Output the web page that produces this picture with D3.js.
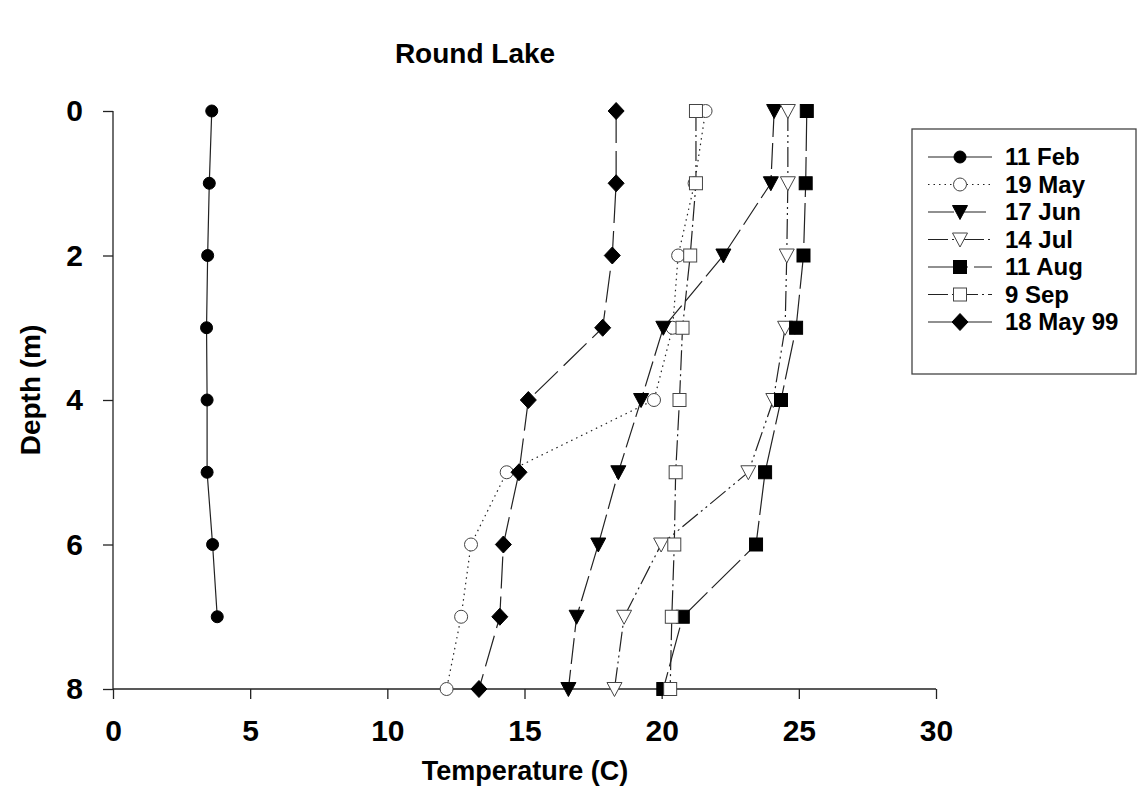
<!DOCTYPE html>
<html>
<head>
<meta charset="utf-8">
<script src="https://cdn.jsdelivr.net/npm/d3@7/dist/d3.min.js"></script>
<style>
  html, body { margin: 0; padding: 0; background: #fff; }
  svg { display: block; font-family: Arial, "Liberation Sans", sans-serif; }
</style>
</head>
<body>
<svg id="chart" width="1142" height="811"></svg>
<script>
// Depth profiles of water temperature, Round Lake
const depths = [0, 1, 2, 3, 4, 5, 6, 7, 8];
const seriesNames = ["11 Feb", "19 May", "17 Jun", "14 Jul", "11 Aug", "9 Sep", "18 May 99"];
const feb11 = [3.60, 3.51, 3.45, 3.41, 3.43, 3.43, 3.63, 3.80];
const may19 = [21.6, 21.2, 20.6, 20.4, 19.72, 14.35, 13.05, 12.69, 12.16];
const jun17 = [24.1, 23.98, 22.25, 20.06, 19.25, 18.42, 17.69, 16.9, 16.6];
const jul14 = [24.6, 24.6, 24.56, 24.5, 24.07, 23.16, 19.98, 18.63, 18.28];
const aug11 = [25.29, 25.25, 25.17, 24.9, 24.35, 23.77, 23.44, 20.77, 20.06];
const sep9 = [21.25, 21.25, 21.04, 20.76, 20.65, 20.51, 20.46, 20.37, 20.31];
const may18_99 = [18.34, 18.34, 18.2, 17.85, 15.14, 14.8, 14.23, 14.1, 13.34];
const xTicks = [0, 5, 10, 15, 20, 25, 30];
const yTicks = [0, 2, 4, 6, 8];

const seriesValues = [feb11, may19, jun17, jul14, aug11, sep9, may18_99];
const markerShapes = ["circle", "circle", "triDown", "triDown", "square", "square", "diamond"];
const markerFilled = [true, false, true, false, true, false, true];
const dashes = ["none", "1.5,4", "26,6", "20,4,2,4,2,4", "40,6", "20,4,2,4", "32,8"];

const svg = d3.select("#chart");
const x = d3.scaleLinear().domain([0, 30]).range([113, 936]);
const y = d3.scaleLinear().domain([0, 8]).range([111, 689]);

// Title
svg.append("text").attr("x", 475).attr("y", 63)
  .attr("text-anchor", "middle").attr("font-size", 28).attr("font-weight", "bold")
  .text("Round Lake");

// Axes
const xAxis = svg.append("g").attr("transform", `translate(0,${y(8)})`)
  .call(d3.axisBottom(x).tickValues(xTicks).tickSize(10).tickPadding(21).tickFormat(d3.format("d")));
const yAxis = svg.append("g").attr("transform", `translate(${x(0)},0)`)
  .call(d3.axisLeft(y).tickValues(yTicks).tickSize(10).tickPadding(20).tickFormat(d3.format("d")));
[xAxis, yAxis].forEach(g => {
  g.select(".domain").attr("stroke", "#222").attr("stroke-width", 1.3);
  g.selectAll(".tick line").attr("stroke", "#222").attr("stroke-width", 1.3);
  g.selectAll(".tick text").attr("font-size", 30).attr("font-weight", "bold")
    .attr("font-family", "Arial, 'Liberation Sans', sans-serif").attr("fill", "#000");
});
// plain axis lines without outer tick hooks
xAxis.select(".domain").attr("d", `M${x(0)},0H${x(30)}`);
yAxis.select(".domain").attr("d", `M0,${y(0)}V${y(8)}`);

svg.append("text").attr("x", 525).attr("y", 780)
  .attr("text-anchor", "middle").attr("font-size", 27).attr("font-weight", "bold")
  .text("Temperature (C)");
svg.append("text")
  .attr("transform", `translate(40,${390}) rotate(-90)`)
  .attr("text-anchor", "middle").attr("font-size", 28).attr("font-weight", "bold")
  .text("Depth (m)");

function drawMarker(g, shape, filled, cx, cy) {
  const fill = filled ? "#000" : "#fff";
  const stroke = filled ? "#000" : "#444";
  if (shape === "circle") {
    g.append("circle").attr("cx", cx).attr("cy", cy).attr("r", filled ? 6 : 6.5)
      .attr("fill", fill).attr("stroke", stroke).attr("stroke-width", 1);
  } else if (shape === "square") {
    g.append("rect").attr("x", cx - 6.5).attr("y", cy - 6.5).attr("width", 13).attr("height", 13)
      .attr("fill", fill).attr("stroke", stroke).attr("stroke-width", 1);
  } else if (shape === "triDown") {
    g.append("path").attr("d", `M${cx - 7.5},${cy - 6.5}L${cx + 7.5},${cy - 6.5}L${cx},${cy + 7.5}Z`)
      .attr("fill", fill).attr("stroke", stroke).attr("stroke-width", 1);
  } else if (shape === "diamond") {
    g.append("path").attr("d", `M${cx},${cy - 8.5}L${cx + 8},${cy}L${cx},${cy + 8.5}L${cx - 8},${cy}Z`)
      .attr("fill", fill).attr("stroke", stroke).attr("stroke-width", 1);
  }
}

const line = d3.line().x(d => x(d.t)).y(d => y(d.z));
const plot = svg.append("g");

// Lines first, then markers on top
seriesValues.forEach((vals, i) => {
  const pts = vals.map((t, k) => ({ t, z: depths[k] }));
  plot.append("path").datum(pts).attr("d", line)
    .attr("fill", "none").attr("stroke", "#222").attr("stroke-width", 1.2)
    .attr("stroke-dasharray", dashes[i]);
});
seriesValues.forEach((vals, i) => {
  const g = plot.append("g");
  vals.forEach((t, k) => drawMarker(g, markerShapes[i], markerFilled[i], x(t), y(depths[k])));
});

// Legend
const lg = svg.append("g");
lg.append("rect").attr("x", 912).attr("y", 129).attr("width", 224).attr("height", 245)
  .attr("fill", "#fff").attr("stroke", "#444").attr("stroke-width", 1.3);
seriesNames.forEach((name, i) => {
  const ly = 157 + i * 27.5;
  lg.append("line").attr("x1", 928).attr("x2", 992).attr("y1", ly).attr("y2", ly)
    .attr("stroke", "#222").attr("stroke-width", 1.2).attr("stroke-dasharray", dashes[i]);
  drawMarker(lg, markerShapes[i], markerFilled[i], 960, ly);
  lg.append("text").attr("x", 1005).attr("y", ly + 8)
    .attr("font-size", 24).attr("font-weight", "bold").text(name);
});
</script>
</body>
</html>
